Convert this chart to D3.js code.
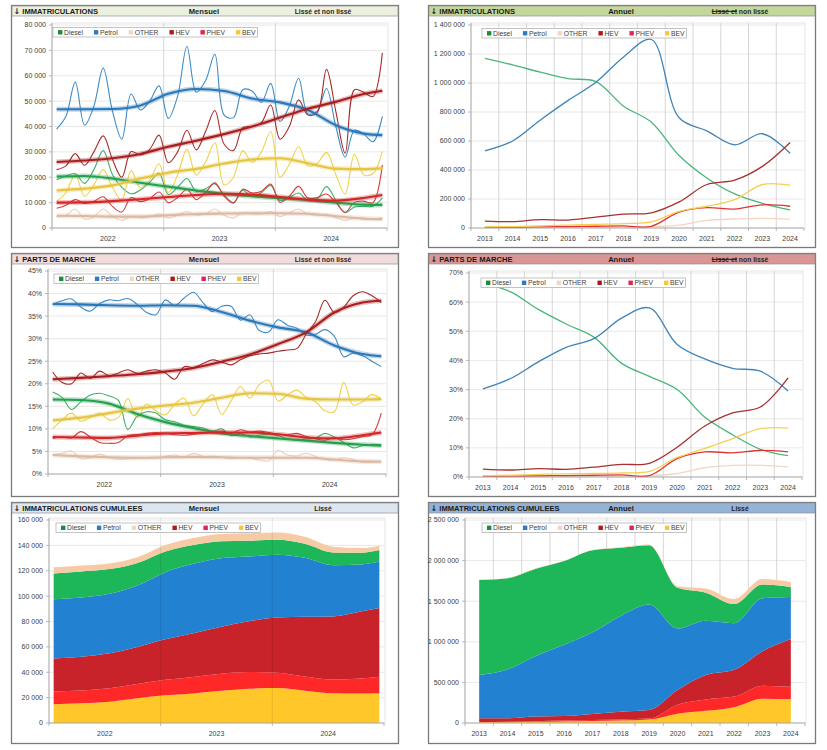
<!DOCTYPE html>
<html><head><meta charset="utf-8">
<script src="https://cdn.jsdelivr.net/npm/d3@7"></script>
<style>body{margin:0;background:#fff;}svg{display:block;font-family:"Liberation Sans",Arial,sans-serif;}</style>
</head><body><svg id="c" width="827" height="750"></svg>
<script>
// ---------------- DATA ----------------
const seriesKeys = ["Diesel","Petrol","OTHER","HEV","PHEV","BEV"];
const months = ["2022-01","2022-02","2022-03","2022-04","2022-05","2022-06","2022-07","2022-08","2022-09","2022-10","2022-11","2022-12",
"2023-01","2023-02","2023-03","2023-04","2023-05","2023-06","2023-07","2023-08","2023-09","2023-10","2023-11","2023-12",
"2024-01","2024-02","2024-03","2024-04","2024-05","2024-06","2024-07","2024-08","2024-09","2024-10","2024-11","2024-12"];
const yearLabelsM = ["2022","2023","2024"];
const trendMonths = ["2022-01","2022-04","2022-07","2022-10","2023-01","2023-04","2023-07","2023-10","2024-01","2024-04","2024-07","2024-10","2024-12"];
const years = ["2013","2014","2015","2016","2017","2018","2019","2020","2021","2022","2023","2024"];

const ticksRegM = [0,10000,20000,30000,40000,50000,60000,70000,80000];
const ticksRegA = [0,200000,400000,600000,800000,1000000,1200000,1400000];
const ticksShM = [0,5,10,15,20,25,30,35,40,45];
const ticksShA = [0,10,20,30,40,50,60,70];
const ticksCumM = [0,20000,40000,60000,80000,100000,120000,140000,160000];
const ticksCumA = [0,500000,1000000,1500000,2000000,2500000];

// monthly registrations (raw)
const regDiesel = [19000,20500,21400,17600,23000,30500,21000,16000,13500,15000,18000,21600,13200,16000,19500,14400,15500,17400,13000,10000,14900,12300,14000,16800,10800,12000,13800,10800,11500,16300,11000,6000,8300,8500,8600,11900];
const regPetrol = [39000,44000,57500,40500,48000,63000,46000,35000,52800,46500,50000,56000,43200,52000,71500,53500,58000,68500,44500,43500,54500,54000,49500,57000,42000,48000,59000,45000,46000,55000,40000,28000,38500,37000,34000,44000];
const regOther  = [4500,5000,7500,3500,4500,7500,4500,3000,4500,4000,4500,5500,4000,5000,6500,5000,5500,7500,5000,4000,6000,5500,5500,6500,4500,6000,7500,5500,5000,5500,4000,3000,4000,3500,3500,4000];
const regHEV    = [23000,24500,29300,24700,30000,36300,27000,20000,30100,28800,31000,36600,25700,30000,38500,30800,38000,46300,33000,30500,39500,40000,41500,48500,35000,40000,50500,44500,45500,62500,46000,29500,54500,53500,51800,69000];
const regPHEV   = [7800,9000,11200,9700,10500,12300,8500,6300,12000,10400,11500,14200,10000,12000,15200,11200,14000,17800,12500,9800,15300,13800,14500,17300,10100,12500,16400,11800,12000,13400,10000,6200,10100,10500,10000,24900];
const regBEV    = [10500,14000,21000,12500,17000,23000,16000,11000,22600,15800,19000,25300,14000,21000,31000,20800,26000,33600,17000,20000,30500,25800,30000,38000,20000,25000,32000,24500,25500,29800,21000,13400,29000,21000,21500,30200];

// monthly registrations (smoothed trend, at trendMonths)
const trDiesel = [20300,20500,19500,17800,16300,14800,13400,12500,11700,11000,10000,9200,9100];
const trPetrol = [46800,46800,46900,48300,52900,54800,54000,51000,49500,46500,40500,37200,36600];
const trOther  = [4800,4700,4500,4500,5000,5500,5700,5800,5800,5600,4600,3700,3500];
const trHEV    = [26000,26600,27500,29200,32000,34400,37000,40000,43500,47000,49700,52800,54100];
const trPHEV   = [10000,10100,10600,11300,12200,13000,13500,13200,12200,11200,10800,11800,13000];
const trBEV    = [14800,15500,16800,19500,21800,23300,25400,27000,27500,25500,23400,23200,23500];

// monthly market shares (%) raw
const shDiesel = [18.2,17.0,14.3,16.0,17.5,17.9,17.3,16.3,9.9,12.8,13.8,13.5,12.0,11.6,10.8,10.5,10.2,9.5,10.0,8.5,9.0,8.2,8.6,8.8,8.5,7.8,7.5,7.8,8.0,9.0,8.2,7.0,5.8,6.3,6.6,6.5];
const shPetrol = [37.6,38.4,38.8,37.0,36.1,37.8,38.6,38.4,38.9,37.6,35.8,35.3,38.6,37.3,39.0,40.3,38.0,36.0,37.2,37.2,34.1,35.3,31.8,31.5,34.2,33.0,32.3,30.8,31.0,32.0,30.5,26.0,26.8,26.2,25.0,23.8];
const shOther  = [4.2,4.6,5.1,3.4,3.6,4.4,3.6,3.3,3.4,3.5,3.6,3.5,3.9,4.2,3.7,4.6,3.9,4.0,3.7,3.4,3.6,3.5,3.1,2.9,5.2,4.2,4.0,4.6,3.9,3.2,3.1,3.6,3.2,2.6,2.7,2.8];
const shHEV    = [22.6,20.3,20.0,22.4,21.2,22.8,21.8,22.4,23.1,22.3,22.8,23.1,22.4,21.0,23.8,23.6,24.5,25.3,24.8,24.2,25.3,26.2,26.6,26.8,27.2,27.5,27.8,31.0,33.8,38.5,35.8,37.0,39.5,40.4,39.5,38.0];
const shPHEV   = [7.9,8.2,8.0,9.4,8.2,7.0,6.8,7.0,8.5,8.7,9.0,9.2,9.0,8.7,8.6,8.8,9.0,9.3,9.5,9.0,9.8,9.3,9.5,9.2,8.8,8.7,9.0,8.3,7.8,7.5,8.0,7.6,7.8,8.3,8.7,13.5];
const shBEV    = [10.0,12.0,13.5,11.7,12.5,13.5,12.0,12.5,16.7,12.5,15.5,14.0,13.1,15.5,16.8,12.9,15.5,17.6,13.2,16.2,19.4,16.8,19.8,20.8,16.2,17.5,18.6,17.0,16.0,14.0,13.8,20.3,15.3,16.0,17.6,16.5];

// monthly market shares (%) trend
const tshDiesel = [16.5,16.4,15.6,13.3,11.5,10.2,9.0,8.4,7.9,7.4,6.9,6.5,6.3];
const tshPetrol = [37.7,37.6,37.4,37.3,37.4,37.3,35.9,34.0,32.5,31.4,28.5,26.6,26.1];
const tshOther  = [4.2,3.9,3.7,3.6,3.7,3.8,3.7,3.6,3.6,3.6,3.2,2.8,2.7];
const tshHEV    = [21.0,21.3,21.7,22.1,22.7,23.5,24.9,26.5,28.8,31.4,35.8,38.0,38.4];
const tshPHEV   = [8.2,8.1,8.0,8.5,9.0,9.1,9.2,9.2,8.8,8.1,7.9,8.6,9.2];
const tshBEV    = [11.9,12.5,13.5,14.5,15.2,15.8,16.9,17.9,17.8,16.7,16.5,16.5,16.6];

// annual registrations
const annDiesel = [1170000,1125000,1075000,1030000,1010000,840000,730000,500000,345000,235000,170000,125000];
const annPetrol = [532000,600000,745000,880000,1005000,1180000,1300000,760000,670000,574000,650000,516000];
const annOther  = [3000,3000,4000,4000,5000,6000,8000,20000,52000,62000,67000,60000];
const annHEV    = [48000,44000,58000,55000,75000,95000,105000,180000,300000,330000,425000,590000];
const annPHEV   = [4000,5000,8000,10000,12000,14000,12000,110000,140000,130000,160000,150000];
const annBEV    = [8000,10000,15000,20000,25000,30000,42000,115000,150000,195000,300000,295000];

// annual market shares (%)
const ashDiesel = [66.5,63.5,57.5,52.5,48.0,39.0,34.5,30.0,20.5,14.5,9.5,7.3];
const ashPetrol = [30.2,33.8,39.5,44.5,47.5,54.5,58.0,45.5,40.5,37.3,36.3,29.5];
const ashOther  = [0.2,0.2,0.2,0.2,0.2,0.3,0.4,1.2,3.2,4.0,4.0,3.5];
const ashHEV    = [2.7,2.4,2.9,2.6,3.4,4.3,4.7,10.2,17.5,22.0,24.0,34.0];
const ashPHEV   = [0.2,0.3,0.4,0.5,0.6,0.7,0.5,6.3,8.6,8.3,9.1,8.6];
const ashBEV    = [0.4,0.6,0.9,1.1,1.2,1.4,1.9,6.7,9.8,13.2,16.6,16.8];

// ---------------- STYLE ----------------
const colThin  = {Diesel:"#3fae6a",Petrol:"#3f8cc4",OTHER:"#efcfb8",HEV:"#a82a2a",PHEV:"#d93a3a",BEV:"#f0d24a"};
const colTrend = {Diesel:"#22a04b",Petrol:"#2b78b8",OTHER:"#dcb9a2",HEV:"#a81e1e",PHEV:"#d42626",BEV:"#e6c440"};
const colLeg   = {Diesel:"#1e8a3c",Petrol:"#2f7bbf",OTHER:"#f0d9c4",HEV:"#b01818",PHEV:"#e0245a",BEV:"#f4c73c"};
const colArea  = {BEV:"#ffc729",PHEV:"#ff2828",HEV:"#c8222a",Petrol:"#2281d1",Diesel:"#1db75a",OTHER:"#f6caa4"};
const colAnn   = {Diesel:"#4bb57a",Petrol:"#3f84b8",OTHER:"#f2d6c0",HEV:"#a83030",PHEV:"#e03434",BEV:"#f5d050"};
const stackOrder = ["BEV","PHEV","HEV","Petrol","Diesel","OTHER"];

const tbl = (arrs) => Object.fromEntries(seriesKeys.map((k,i)=>[k,arrs[i]]));
const regM = tbl([regDiesel,regPetrol,regOther,regHEV,regPHEV,regBEV]);
const trM  = tbl([trDiesel,trPetrol,trOther,trHEV,trPHEV,trBEV]);
const shM  = tbl([shDiesel,shPetrol,shOther,shHEV,shPHEV,shBEV]);
const tshM = tbl([tshDiesel,tshPetrol,tshOther,tshHEV,tshPHEV,tshBEV]);
const regA = tbl([annDiesel,annPetrol,annOther,annHEV,annPHEV,annBEV]);
const shA  = tbl([ashDiesel,ashPetrol,ashOther,ashHEV,ashPHEV,ashBEV]);

const fmtN = d3.formatLocale({decimal:",",thousands:" ",grouping:[3],currency:["",""]}).format(",.0f");
const fmtP = v => v + "%";

const svg = d3.select("#c");

// ---------------- HELPERS ----------------
function frame(x,y,w,h,hc,left,mid,right,strike){
  svg.append("rect").attr("x",x+0.5).attr("y",y+0.5).attr("width",w).attr("height",h)
    .attr("fill","#fff").attr("stroke","#7a7a7a").attr("stroke-width",1.3);
  svg.append("rect").attr("x",x+1).attr("y",y+1).attr("width",w-1).attr("height",10)
    .attr("fill",hc).attr("stroke","#8f8f8f").attr("stroke-width",0.7);
  const lt = svg.append("text").attr("x",x+2.5).attr("y",y+8.8).attr("font-size",7.6).attr("font-weight","bold").attr("fill","#1a1a1a");
  lt.append("tspan").attr("font-family","DejaVu Sans").attr("font-size",8).text("↓");
  lt.append("tspan").text(" " + left);
  svg.append("text").attr("x",x+193).attr("y",y+8.8).attr("text-anchor","middle").attr("font-size",7.6).attr("font-weight","bold").attr("fill","#1a1a1a").text(mid);
  const rt = svg.append("text").attr("x",x+312).attr("y",y+8.8).attr("text-anchor","middle").attr("font-size",6.8).attr("font-weight","bold").attr("fill","#262626").text(right);
  if(strike){
    const n = rt.node(); const bb = n.getBBox(); const sl = n.getSubStringLength(0,strike.length);
    svg.append("line").attr("x1",bb.x).attr("x2",bb.x+sl).attr("y1",y+6.4).attr("y2",y+6.4).attr("stroke","#222").attr("stroke-width",1);
  }
}

function plotBase(L,y,ticks,fmt,vlines){
  const g = svg.append("g");
  g.append("rect").attr("x",L.l).attr("y",L.t-2).attr("width",L.r-L.l+1).attr("height",L.b-L.t+2)
    .attr("fill","none").attr("stroke","#dedede").attr("stroke-width",0.8);
  ticks.forEach(v=>{ if(v>0) g.append("line").attr("x1",L.l).attr("x2",L.r).attr("y1",y(v)).attr("y2",y(v)).attr("stroke","#e2e2e2").attr("stroke-width",0.8); });
  (vlines||[]).forEach(xv=> g.append("line").attr("x1",xv).attr("x2",xv).attr("y1",L.t-2).attr("y2",L.b).attr("stroke","#cdcdcd").attr("stroke-width",0.8));
  return g;
}
function axes(L,y,ticks,fmt,xticks,xlabels){
  const g = svg.append("g");
  g.append("line").attr("x1",L.l).attr("x2",L.l).attr("y1",L.t-2).attr("y2",L.b).attr("stroke","#a6a6a6").attr("stroke-width",0.9);
  g.append("line").attr("x1",L.l).attr("x2",L.r).attr("y1",L.b).attr("y2",L.b).attr("stroke","#a6a6a6").attr("stroke-width",0.9);
  ticks.forEach(v=>{
    g.append("line").attr("x1",L.l-3).attr("x2",L.l).attr("y1",y(v)).attr("y2",y(v)).attr("stroke","#a6a6a6").attr("stroke-width",0.8);
    g.append("text").attr("x",L.l-6).attr("y",y(v)).attr("dy","0.35em").attr("text-anchor","end").attr("font-size",7).attr("fill","#404040").text(fmt(v));
  });
  xticks.forEach(xv=> g.append("line").attr("x1",xv).attr("x2",xv).attr("y1",L.b).attr("y2",L.b+3).attr("stroke","#a6a6a6").attr("stroke-width",0.8));
  xlabels.forEach(([xv,t])=> g.append("text").attr("x",xv).attr("y",L.b+12.5).attr("text-anchor","middle").attr("font-size",7).attr("fill","#404040").text(t));
}
function legend(bx,by){
  const g = svg.append("g");
  const box = g.append("rect").attr("x",bx).attr("y",by).attr("height",9.5).attr("fill","#fff").attr("stroke","#a8a8a8").attr("stroke-width",0.7);
  let cx = bx+5;
  seriesKeys.forEach(k=>{
    g.append("rect").attr("x",cx).attr("y",by+2.6).attr("width",4.4).attr("height",4.4).attr("fill",colLeg[k]);
    const t = g.append("text").attr("x",cx+6).attr("y",by+7.2).attr("font-size",6.8).attr("fill","#404040").text(k);
    const tl = t.node().getComputedTextLength();
    cx += 6 + tl + (k===seriesKeys[seriesKeys.length-1] ? 2 : 11);
  });
  box.attr("width",cx-bx);
}

function monthlyScales(L){
  const x = d3.scaleBand().domain(months).range([L.l,L.r]);
  const xc = m => x(m)+x.bandwidth()/2;
  const div = months.filter((m,i)=>i>0 && m.endsWith("-01")).map(m=>x(m));
  const labs = yearLabelsM.map(yr=>{ const ms = months.filter(m=>m.startsWith(yr)); return [(x(ms[0])+x(ms[ms.length-1])+x.bandwidth())/2, yr]; });
  return {x,xc,div,labs,xt:[L.l,...div,L.r]};
}
function annualScales(L){
  const x = d3.scaleBand().domain(years).range([L.l,L.r]);
  const xc = yv => x(yv)+x.bandwidth()/2;
  const bnd = years.slice(1).map(yv=>x(yv));
  return {x,xc,bnd,labs:years.map(yv=>[xc(yv),yv]),xt:[L.l,...bnd,L.r]};
}

function monthlyLinePanel(L,raw,trend,ticks,fmt,leg){
  const S = monthlyScales(L);
  const y = d3.scaleLinear().domain([0,d3.max(ticks)]).range([L.b,L.t]);
  plotBase(L,y,ticks,fmt,S.div);
  const g = svg.append("g");
  const lr = d3.line().x((d,i)=>S.xc(months[i])).y(d=>y(d)).curve(d3.curveCatmullRom.alpha(0.5));
  const lt = d3.line().x((d,i)=>S.xc(trendMonths[i])).y(d=>y(d)).curve(d3.curveMonotoneX);
  seriesKeys.forEach(k=> g.append("path").attr("d",lr(raw[k])).attr("fill","none").attr("stroke",colThin[k]).attr("stroke-width",1.1));
  seriesKeys.forEach(k=>{
    g.append("path").attr("d",lt(trend[k])).attr("fill","none").attr("stroke",colTrend[k]).attr("stroke-opacity",0.3).attr("stroke-width",5);
    g.append("path").attr("d",lt(trend[k])).attr("fill","none").attr("stroke",colTrend[k]).attr("stroke-width",2.1);
  });
  axes(L,y,ticks,fmt,S.xt,S.labs);
  legend(leg[0],leg[1]);
}
function annualLinePanel(L,data,ticks,fmt,leg){
  const S = annualScales(L);
  const y = d3.scaleLinear().domain([0,d3.max(ticks)]).range([L.b,L.t]);
  plotBase(L,y,ticks,fmt,S.bnd);
  const g = svg.append("g");
  const ln = d3.line().x((d,i)=>S.xc(years[i])).y(d=>y(d)).curve(d3.curveCatmullRom.alpha(0.5));
  seriesKeys.forEach(k=> g.append("path").attr("d",ln(data[k])).attr("fill","none").attr("stroke",colAnn[k]).attr("stroke-width",1.3));
  axes(L,y,ticks,fmt,S.xt,S.labs);
  legend(leg[0],leg[1]);
}
function stackPanel(L,cats,xc,data,ticks,fmt,vlBack,vlFront,xt,labs,leg){
  const y = d3.scaleLinear().domain([0,d3.max(ticks)]).range([L.b,L.t]);
  plotBase(L,y,ticks,fmt,vlBack);
  const rows = cats.map((c,i)=>{ const o={c}; seriesKeys.forEach(k=>o[k]=data[k][i]); return o; });
  const st = d3.stack().keys(stackOrder)(rows);
  const ar = d3.area().x(d=>xc(d.data.c)).y0(d=>y(d[0])).y1(d=>y(d[1])).curve(d3.curveMonotoneX);
  const g = svg.append("g");
  st.forEach(s=> g.append("path").attr("d",ar(s)).attr("fill",colArea[s.key]));
  vlFront.forEach(xv=> g.append("line").attr("x1",xv).attr("x2",xv).attr("y1",L.t-2).attr("y2",L.b).attr("stroke","#000").attr("stroke-opacity",0.12).attr("stroke-width",0.8));
  axes(L,y,ticks,fmt,xt,labs);
  legend(leg[0],leg[1]);
}

// ---------------- PANELS ----------------
frame(11,5,387,242,"#ebf0df","IMMATRICULATIONS","Mensuel","Lissé et non lissé",null);
monthlyLinePanel({l:52,t:25,r:387,b:228},regM,trM,ticksRegM,fmtN,[53,27.5]);

frame(428,5,387,242,"#c4d79b","IMMATRICULATIONS","Annuel","Lissé et non lissé","Lissé et");
annualLinePanel({l:471,t:25,r:804,b:228},regA,ticksRegA,fmtN,[482,28.5]);

frame(11,253,387,243,"#f2dcdb","PARTS DE MARCHE","Mensuel","Lissé et non lissé",null);
monthlyLinePanel({l:48,t:271,r:386,b:474},shM,tshM,ticksShM,fmtP,[54,274]);

frame(428,253,387,243,"#da9694","PARTS DE MARCHE","Annuel","Lissé et non lissé","Lissé et");
annualLinePanel({l:469,t:273,r:802,b:477},shA,ticksShA,fmtP,[481,278]);

frame(11,502,387,241,"#dce6f1","IMMATRICULATIONS CUMULEES","Mensuel","Lissé",null);
(function(){
  const L={l:49,t:520,r:384,b:723};
  const S=monthlyScales(L);
  stackPanel(L,trendMonths,S.xc,trM,ticksCumM,fmtN,[],S.div,S.xt,S.labs,[56,523]);
})();

frame(428,502,387,241,"#95b3d7","IMMATRICULATIONS CUMULEES","Annuel","Lissé",null);
(function(){
  const L={l:465,t:520,r:805,b:723};
  const S=annualScales(L);
  stackPanel(L,years,S.xc,regA,ticksCumA,fmtN,S.bnd,[],S.xt,S.labs,[482,523]);
})();
</script></body></html>
